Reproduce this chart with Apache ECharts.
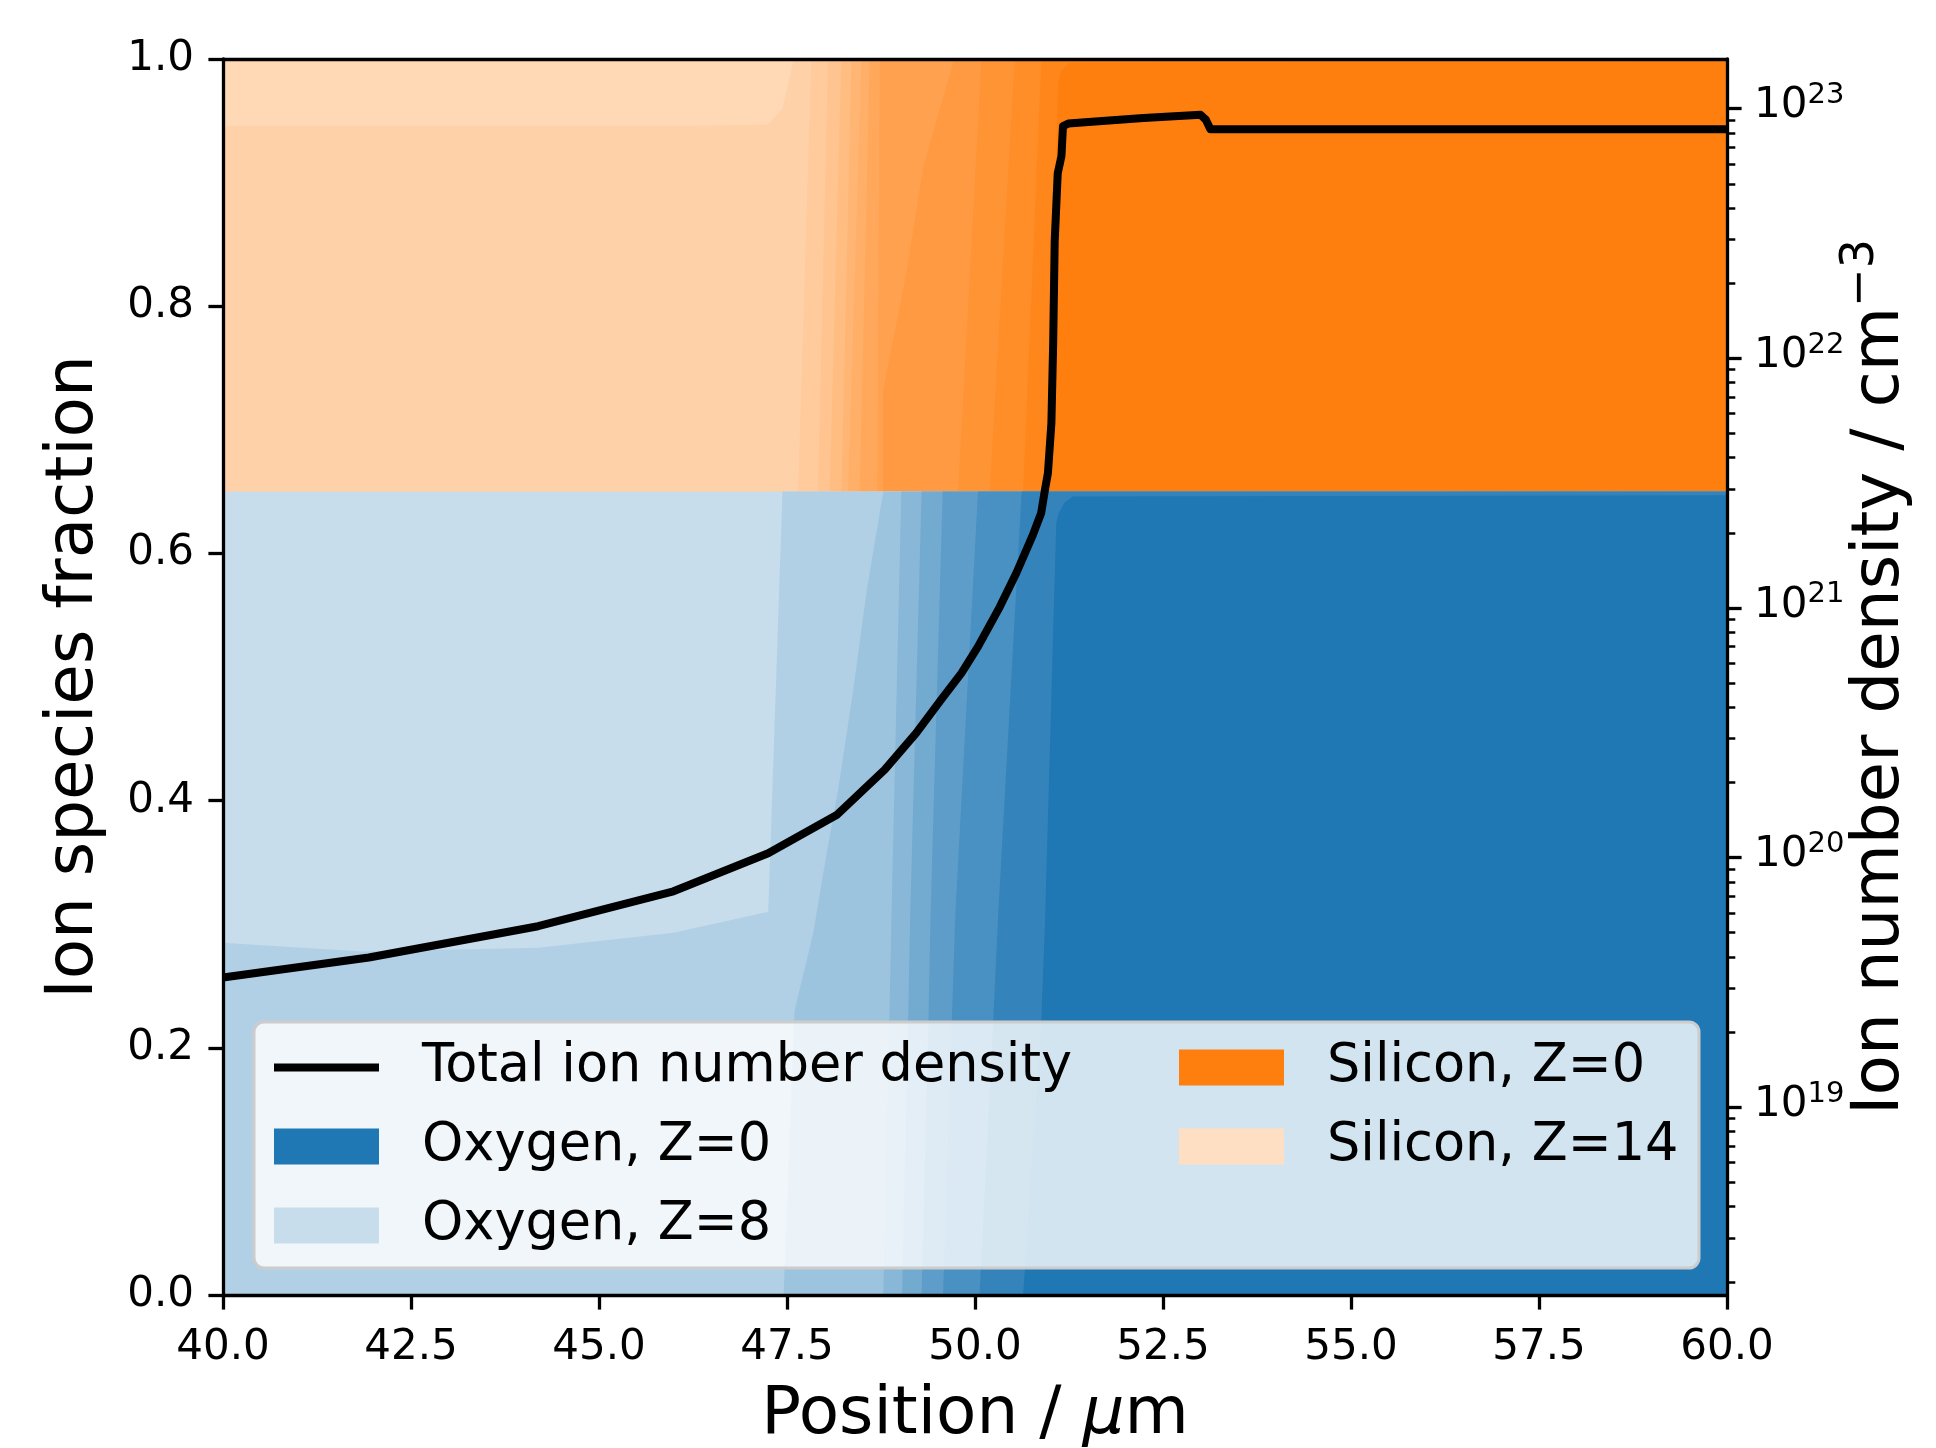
<!DOCTYPE html>
<html>
<head>
<meta charset="utf-8">
<script src="https://cdn.jsdelivr.net/npm/echarts@6/dist/echarts.min.js"></script>
<style>
html,body{margin:0;padding:0;background:#fff;}
#chart{width:1936px;height:1448px;}
</style>
</head>
<body>
<div id="chart"></div>
<script>
// ---------------- data ----------------
// Total ion number density (right, log axis)
const densityPos = [40.0, 41.94, 44.19, 45.99, 47.25, 48.16, 48.80, 49.22, 49.55, 49.82, 50.04, 50.33, 50.55, 50.77, 50.88, 50.93, 50.97, 51.016, 51.04, 51.06, 51.10, 51.15, 51.17, 51.24, 51.60, 52.24, 53.00, 53.07, 53.13, 60.0];
const densityVal = [3.31e19, 3.98e19, 5.31e19, 7.33e19, 1.04e20, 1.48e20, 2.25e20, 3.16e20, 4.29e20, 5.48e20, 7.0e20, 1.01e21, 1.38e21, 1.96e21, 2.40e21, 2.97e21, 3.47e21, 5.5e21, 1.17e22, 2.95e22, 5.5e22, 6.46e22, 8.51e22, 8.71e22, 8.87e22, 9.16e22, 9.44e22, 9.02e22, 8.26e22, 8.26e22];

// Element fractions (stacked)
const oxygenTotal = [[40, 0.65], [60, 0.65]];
const siliconTop = [[40, 1.0], [60, 1.0]];

// Oxygen charge-state boundaries: boundary between Z=k and Z=k-1 (k = 8 ... 1)
// points [position, cumulative fraction of states below k]
const oxygenBoundaries = [
  [[40, 0.285], [41.86, 0.278], [44.19, 0.281], [45.99, 0.293], [47.25, 0.31], [47.44, 0.65], [60, 0.65]],
  [[47.455, 0], [47.60, 0.23], [47.85, 0.293], [48.02, 0.355], [48.18, 0.409], [48.38, 0.489], [48.56, 0.57], [48.78, 0.65], [60, 0.65]],
  [[48.78, 0], [48.86, 0.22], [48.89, 0.31], [49.02, 0.65], [60, 0.65]],
  [[49.03, 0], [49.11, 0.22], [49.14, 0.31], [49.29, 0.65], [60, 0.65]],
  [[49.29, 0], [49.38, 0.22], [49.41, 0.31], [49.57, 0.65], [60, 0.65]],
  [[49.575, 0], [49.69, 0.22], [49.74, 0.31], [50.04, 0.65], [60, 0.65]],
  [[50.06, 0], [50.24, 0.22], [50.31, 0.31], [50.62, 0.65], [60, 0.65]],
  [[50.64, 0], [50.88, 0.22], [50.93, 0.30], [51.08, 0.624], [51.11, 0.632], [51.19, 0.641], [51.30, 0.646], [60, 0.647]]
];

// Silicon charge-state boundaries: boundary between Z=k and Z=k-1 (k = 13 ... 1)
const siliconBoundaries = [
  [[40, 0.946], [46.29, 0.946], [47.25, 0.947], [47.44, 0.96], [47.59, 1.0], [60, 1.0]],
  [[47.647, 0.65], [47.824, 1.0], [60, 1.0]],
  [[47.913, 0.65], [48.046, 1.0], [60, 1.0]],
  [[48.068, 0.65], [48.223, 1.0], [60, 1.0]],
  [[48.223, 0.65], [48.356, 1.0], [60, 1.0]],
  [[48.312, 0.65], [48.489, 1.0], [60, 1.0]],
  [[48.467, 0.65], [48.60, 1.0], [60, 1.0]],
  [[48.70, 0.65], [48.733, 1.0], [60, 1.0]],
  [[48.778, 0.65], [48.778, 0.732], [48.866, 0.759], [49.088, 0.827], [49.31, 0.912], [49.709, 0.997], [49.73, 1.0], [60, 1.0]],
  [[49.775, 0.65], [50.086, 1.0], [60, 1.0]],
  [[50.196, 0.65], [50.529, 1.0], [60, 1.0]],
  [[50.64, 0.65], [50.884, 1.0], [60, 1.0]],
  [[50.95, 0.65], [51.105, 0.98], [51.14, 0.99], [51.26, 0.997], [60, 0.998]]
];

// Right axis ticks
const rightTickValues = [1e19, 1e20, 1e21, 1e22, 1e23];
const rightTickExp = ['19', '20', '21', '22', '23'];
const rightMinorTicks = [2e18, 3e18, 4e18, 5e18, 6e18, 7e18, 8e18, 9e18,
  2e19, 3e19, 4e19, 5e19, 6e19, 7e19, 8e19, 9e19,
  2e20, 3e20, 4e20, 5e20, 6e20, 7e20, 8e20, 9e20,
  2e21, 3e21, 4e21, 5e21, 6e21, 7e21, 8e21, 9e21,
  2e22, 3e22, 4e22, 5e22, 6e22, 7e22, 8e22, 9e22];
const rightMin = 1.77e18, rightMax = 1.58e23;

// ---------------- styling ----------------
const FONT = 'DejaVu Sans';
const OX_BASE = [31, 119, 180];
const SI_BASE = [255, 127, 14];
function shade(base, z, zmax) {
  const a = 1 - 0.75 * z / zmax;
  return 'rgb(' + base.map(c => Math.round(255 - a * (255 - c))).join(',') + ')';
}
function band(name, data, color) {
  return {
    type: 'line', name: name, data: data, symbol: 'none', showSymbol: false,
    color: color, itemStyle: {color: color},
    lineStyle: {width: 0, opacity: 0},
    areaStyle: {color: color, opacity: 1, origin: 'start'},
    silent: true, z: 2, xAxisIndex: 0, yAxisIndex: 0
  };
}

const series = [];
// silicon first (areas reach down to 0, covered later by oxygen)
series.push(band('Silicon, Z=13', siliconTop, shade(SI_BASE, 13, 14)));
for (let i = 0; i < siliconBoundaries.length; i++) {
  const zBelow = 12 - i;
  series.push(band('Silicon, Z=' + zBelow, siliconBoundaries[i], shade(SI_BASE, zBelow, 14)));
}
series.push(band('Silicon, Z=14', [], shade(SI_BASE, 14, 14)));
// oxygen
series.push(band('Oxygen, Z=8', oxygenTotal, shade(OX_BASE, 8, 8)));
for (let i = 0; i < oxygenBoundaries.length; i++) {
  const zBelow = 7 - i;
  series.push(band('Oxygen, Z=' + zBelow, oxygenBoundaries[i], shade(OX_BASE, zBelow, 8)));
}
// total density
series.push({
  type: 'line', name: 'Total ion number density', xAxisIndex: 0, yAxisIndex: 1,
  data: densityPos.map((x, i) => [x, densityVal[i]]),
  symbol: 'none', showSymbol: false, color: '#000',
  lineStyle: {color: '#000', width: 8, join: 'round'}, z: 5, silent: true
});

const axisCommon = {
  axisLine: {show: true, lineStyle: {color: '#000', width: 3.3}},
  axisTick: {show: true, inside: false, length: 14.6, lineStyle: {color: '#000', width: 3.3}},
  splitLine: {show: false},
  z: 10
};

const legendText = {fontSize: 52.5, lineHeight: 52, color: '#000', fontFamily: FONT, padding: [0, 0, 0, 38]};

const option = {
  animation: false,
  backgroundColor: '#fff',
  textStyle: {fontFamily: FONT},
  grid: {left: 223, right: 209, top: 59, bottom: 153, show: false, containLabel: false, outerBoundsMode: 'none'},
  xAxis: [
    Object.assign({}, axisCommon, {
      type: 'value', position: 'bottom', min: 40, max: 60, interval: 2.5,
      axisLabel: {fontSize: 42, color: '#000', fontFamily: FONT, margin: 32, formatter: v => v.toFixed(1)},
      name: 'Position / {i|μ}m', nameLocation: 'middle', nameGap: 88, nameMoveOverlap: false,
      nameTextStyle: {fontSize: 66, color: '#000', fontFamily: FONT,
        rich: {i: {fontSize: 66, fontStyle: 'italic', fontFamily: FONT, color: '#000'}}}
    }),
    {type: 'value', position: 'top', min: 40, max: 60, interval: 2.5,
      axisLine: {show: true, lineStyle: {color: '#000', width: 3.3}},
      axisTick: {show: false}, axisLabel: {show: false}, splitLine: {show: false}, z: 10}
  ],
  yAxis: [
    Object.assign({}, axisCommon, {
      type: 'value', position: 'left', min: 0, max: 1, interval: 0.2,
      axisLabel: {fontSize: 42, color: '#000', fontFamily: FONT, margin: 29, formatter: v => v.toFixed(1)},
      name: 'Ion species fraction', nameLocation: 'middle', nameGap: 115, nameRotate: 90, nameMoveOverlap: false,
      nameTextStyle: {fontSize: 66, color: '#000', fontFamily: FONT}
    }),
    Object.assign({}, axisCommon, {
      type: 'log', position: 'right', min: rightMin, max: rightMax, logBase: 10,
      axisTick: {show: true, inside: false, length: 14.6, customValues: rightTickValues, lineStyle: {color: '#000', width: 3.3}},
      axisLabel: {
        customValues: rightTickValues, margin: 27, color: '#000', fontFamily: FONT,
        formatter: function (v) {
          let idx = 0, best = Infinity;
          rightTickValues.forEach((t, i) => { const d = Math.abs(Math.log10(t) - Math.log10(v)); if (d < best) { best = d; idx = i; } });
          return '{b|10}{s|' + rightTickExp[idx] + '}';
        },
        rich: {
          b: {fontSize: 42, lineHeight: 55, padding: [0, 0, 8.6, 0], verticalAlign: 'bottom', fontFamily: FONT, color: '#000'},
          s: {fontSize: 29, lineHeight: 29, verticalAlign: 'top', fontFamily: FONT, color: '#000'}
        }
      },
      name: '{n|Ion number density / cm}{s|−3}', nameLocation: 'middle', nameGap: 111, nameRotate: 90, nameMoveOverlap: false,
      nameTextStyle: {
        fontSize: 66, color: '#000', fontFamily: FONT,
        rich: {
          n: {fontSize: 66, lineHeight: 76, verticalAlign: 'bottom', fontFamily: FONT, color: '#000'},
          s: {fontSize: 46, lineHeight: 46, verticalAlign: 'top', fontFamily: FONT, color: '#000'}
        }
      }
    }),
    {
      type: 'log', position: 'right', min: rightMin, max: rightMax, logBase: 10,
      axisLine: {show: false}, axisLabel: {show: false}, splitLine: {show: false},
      axisTick: {show: true, inside: false, length: 8.3, customValues: rightMinorTicks, lineStyle: {color: '#000', width: 2.5}},
      z: 10
    }
  ],
  legend: [
    {
      data: [
        {name: 'Total ion number density', icon: 'path://M0,0 H105 V8 H0 Z'},
        {name: 'Oxygen, Z=0', icon: 'rect'},
        {name: 'Oxygen, Z=8', icon: 'rect'}
      ],
      orient: 'vertical', left: 274, top: 1041, itemWidth: 105, itemHeight: 36, itemGap: 26,
      padding: 0, selectedMode: false, textStyle: legendText, itemStyle: {borderWidth: 0}, z: 20
    },
    {
      data: [
        {name: 'Silicon, Z=0', icon: 'rect'},
        {name: 'Silicon, Z=14', icon: 'rect'}
      ],
      orient: 'vertical', left: 1179, top: 1041, itemWidth: 105, itemHeight: 36, itemGap: 26,
      padding: 0, selectedMode: false, textStyle: legendText, itemStyle: {borderWidth: 0}, z: 20
    }
  ],
  graphic: [{
    type: 'rect', z: 15, silent: true,
    shape: {x: 254, y: 1022, width: 1445, height: 246, r: 10},
    style: {fill: 'rgba(255,255,255,0.8)', stroke: '#cccccc', lineWidth: 3}
  }],
  series: series
};

const chart = echarts.init(document.getElementById('chart'), null, {renderer: 'canvas'});
chart.setOption(option);
</script>
</body>
</html>
